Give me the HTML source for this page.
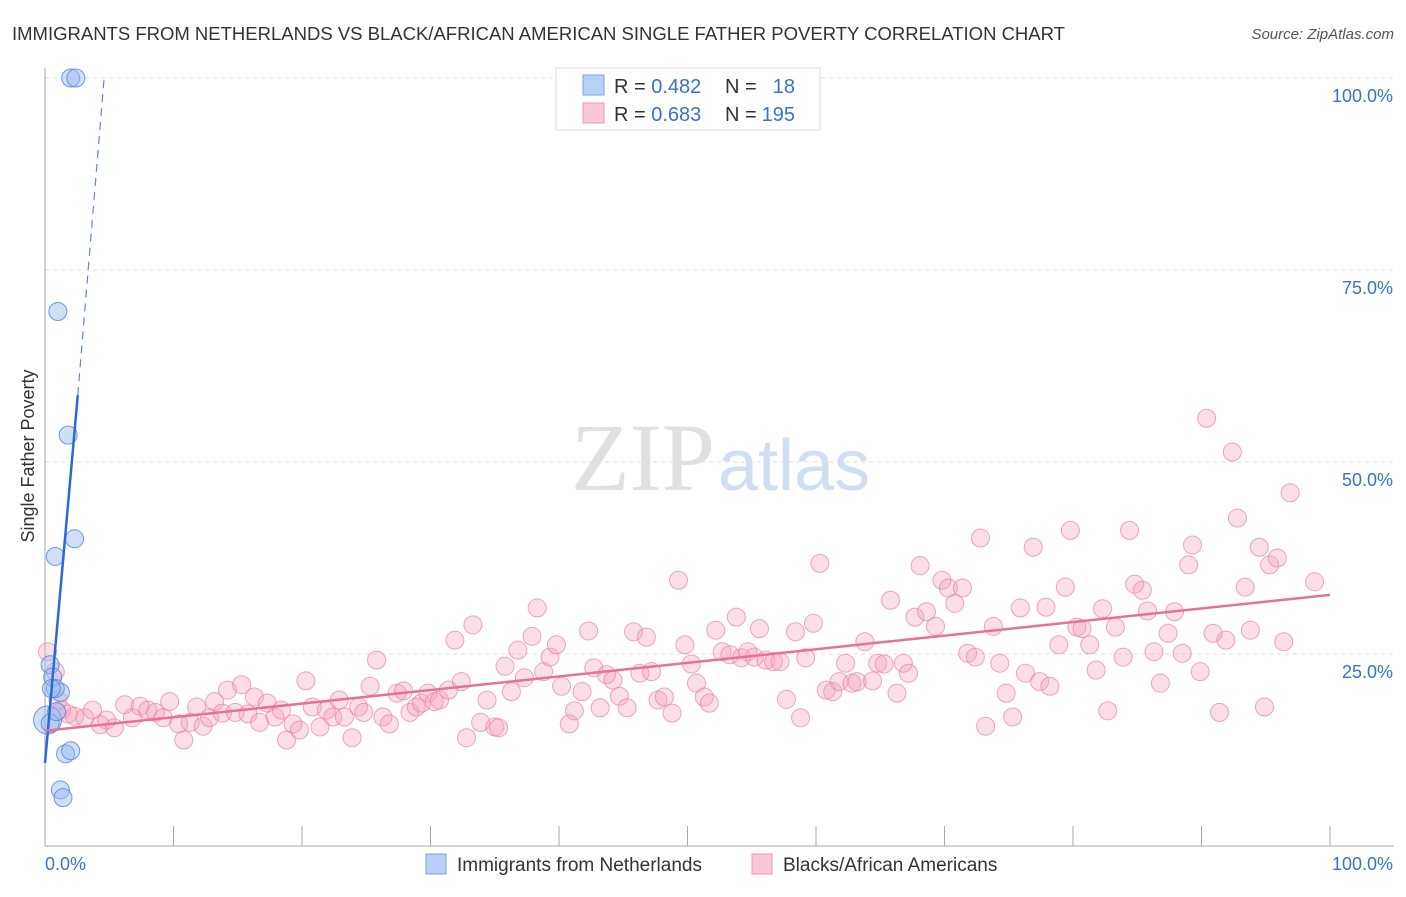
<!DOCTYPE html>
<html><head><meta charset="utf-8"><style>
body{margin:0;background:#fff;font-family:"Liberation Sans",sans-serif}
</style></head><body>
<svg id="chart" width="1406" height="892" xmlns="http://www.w3.org/2000/svg" font-family="Liberation Sans, sans-serif">
<text x="12" y="40" font-size="18.5" fill="#333">IMMIGRANTS FROM NETHERLANDS VS BLACK/AFRICAN AMERICAN SINGLE FATHER POVERTY CORRELATION CHART</text>
<text x="1394" y="39" font-size="15" font-style="italic" fill="#555" text-anchor="end">Source: ZipAtlas.com</text>
<text x="715" y="490" font-size="96" font-family="Liberation Serif, serif" fill="#e0e0e0" text-anchor="end">ZIP</text>
<text x="718" y="490" font-size="72" fill="#d0def2">atlas</text>
<g id="grid"></g>
<g id="axes"></g>
<g id="pink"></g>
<g id="blue"></g>
<g id="trends"></g>
<text transform="translate(34,456) rotate(-90)" font-size="18" fill="#333" text-anchor="middle">Single Father Poverty</text>
<g>
<rect x="556" y="68" width="264" height="62" fill="#fff" stroke="#ddd"/>
<rect x="583" y="75" width="21" height="20" fill="#b8d0f5" stroke="#7aa4e0"/>
<rect x="583" y="103" width="21" height="20" fill="#fbc8d8" stroke="#ee99b5"/>
<text x="614" y="93" font-size="20" fill="#333">R = <tspan fill="#3a72c8">0.482</tspan></text>
<text x="725" y="93" font-size="20" fill="#333">N =</text>
<text x="795" y="93" font-size="20" fill="#3a72c8" text-anchor="end">18</text>
<text x="614" y="121" font-size="20" fill="#333">R = <tspan fill="#3a72c8">0.683</tspan></text>
<text x="725" y="121" font-size="20" fill="#333">N =</text>
<text x="795" y="121" font-size="20" fill="#3a72c8" text-anchor="end">195</text>
</g>
<g>
<rect x="426" y="854" width="20" height="20" fill="#b8d0f5" stroke="#7aa4e0"/>
<text x="457" y="871" font-size="19" fill="#333">Immigrants from Netherlands</text>
<rect x="752" y="854" width="20" height="20" fill="#fbc8d8" stroke="#ee99b5"/>
<text x="783" y="871" font-size="19" fill="#333">Blacks/African Americans</text>
</g>
</svg>
<script>
const yTicks=[25,50,75,100];
const yTickLabels=["25.0%","50.0%","75.0%","100.0%"];
const xTickLabels=["0.0%","100.0%"];
const blueX=[2,2.4,1,1.8,2.3,0.8,0.4,0.6,1.2,0.8,0.2,0.4,1.6,2,1.2,1.4,0.9,0.5];
const blueY=[100,100,69.6,53.5,40,37.7,23.6,22,20,20.5,16.4,16,12,12.4,7.3,6.3,17.5,20.5];
const pinkX=[0.2,0.8,1,1.3,1.8,2.3,3.1,3.7,4.3,4.8,5.4,6.2,6.8,7.4,8,8.6,9.2,9.7,10.4,10.8,11.3,11.8,12.3,12.8,13.2,13.8,14.2,14.8,15.3,15.8,16.3,16.7,17.3,17.9,18.4,18.8,19.3,19.8,20.3,20.8,21.4,21.9,22.4,22.9,23.3,23.9,24.4,24.8,25.3,25.8,26.3,26.8,27.4,27.9,28.4,28.9,29.3,29.8,30.3,30.7,31.4,31.9,32.4,32.8,33.3,33.9,34.4,35,35.3,35.8,36.3,36.8,37.3,37.9,38.3,38.8,39.3,39.8,40.2,40.8,41.2,41.8,42.3,42.7,43.2,43.7,44.2,44.7,45.3,45.8,46.3,46.8,47.2,47.7,48.2,48.8,49.3,49.8,50.3,50.7,51.3,51.7,52.2,52.7,53.3,53.8,54.2,54.7,55.2,55.6,56.1,56.7,57.2,57.7,58.4,58.8,59.2,59.8,60.3,60.8,61.3,61.8,62.3,62.8,63.2,63.8,64.4,64.8,65.3,65.8,66.3,66.8,67.2,67.7,68.1,68.6,69.3,69.8,70.3,70.8,71.4,71.8,72.4,72.8,73.2,73.8,74.3,74.8,75.3,75.9,76.3,76.9,77.4,77.9,78.2,78.9,79.4,79.8,80.3,80.7,81.3,81.8,82.3,82.7,83.3,83.9,84.4,84.8,85.4,85.8,86.3,86.8,87.4,87.9,88.5,89,89.3,89.9,90.4,90.9,91.4,91.9,92.4,92.8,93.4,93.8,94.5,94.9,95.3,95.9,96.4,96.9,98.8];
const pinkY=[25.3,22.7,19,17.7,17.2,16.9,16.7,17.7,15.8,16.4,15.4,18.4,16.7,18.2,17.7,17.4,16.7,18.8,15.9,13.8,16.1,18.1,15.6,16.7,18.8,17.3,20.3,17.4,21,17.2,19.4,16.1,18.6,16.8,17.7,13.8,15.9,15.1,21.5,18.1,15.5,17.7,16.8,19,16.8,14.1,18.1,17.4,20.8,24.2,16.8,15.9,19.9,20.2,17.4,18.1,18.6,19.9,18.8,19,20.3,26.8,21.4,14.1,28.8,16.1,19,15.5,15.4,23.4,20.1,25.5,21.9,27.3,31,22.7,24.6,26.2,20.8,15.9,17.6,20.1,28,23.2,18,22.3,21.6,19.5,18,27.9,22.5,27.2,22.7,19,19.4,17.3,34.6,26.2,23.7,21.2,19.4,18.6,28.1,25.3,24.9,29.8,24.5,25.3,24.6,28.3,24.2,24,24,19.1,27.9,16.7,24.5,29,36.8,20.3,20.1,21.4,23.8,21.2,21.4,26.6,21.5,23.8,23.7,32,19.9,23.8,22.5,29.8,36.5,30.5,28.6,34.6,33.6,31.6,33.6,25.1,24.6,40.1,15.6,28.6,23.8,19.9,16.8,31,22.5,38.9,21.4,31.1,20.8,26.2,33.7,41.1,28.5,28.3,26.2,22.9,30.9,17.6,28.5,24.6,41.1,34.1,33.3,30.6,25.3,21.2,27.7,30.5,25.1,36.6,39.2,22.7,55.7,27.7,17.4,26.8,51.3,42.7,33.7,28.1,38.9,18.1,36.6,37.5,26.6,46,34.4];
const blueTrend=[[0,10.8],[2.55,58.7]];
const blueDash=[[2.55,58.7],[4.6,100]];
const pinkTrend=[[0,15],[100,32.7]];
const NS="http://www.w3.org/2000/svg";
const X=v=>45+v*12.85, Y=v=>846-v*7.68;
function mk(tag,attrs,parent){const e=document.createElementNS(NS,tag);for(const k in attrs)e.setAttribute(k,attrs[k]);document.getElementById(parent).appendChild(e);return e;}
yTicks.forEach((t,i)=>{
 const g=mk('line',{x1:45,x2:1394,y1:Y(t),y2:Y(t),stroke:'#ddd','stroke-dasharray':'4,4'},'grid');
 
 
 const l=mk('text',{x:1393,y:Y(t)+24,'font-size':18,fill:'#3a72c8','text-anchor':'end'},'grid');
 l.textContent=yTickLabels[i];
 
 
});
const ax=mk('line',{x1:45,x2:45,y1:68,y2:846,stroke:'#aaa'},'axes');


const bx=mk('line',{x1:45,x2:1394,y1:846,y2:846,stroke:'#aaa'},'axes');


for(let i=0;i<=10;i++){const t=mk('line',{x1:X(i*10),x2:X(i*10),y1:826,y2:846,stroke:'#aaa'},'axes');
 
 }
[[0,'start',45],[100,'end',1393]].forEach((d,i)=>{const t=mk('text',{x:d[2],y:870,'font-size':18,fill:'#3a72c8','text-anchor':d[1]},'axes');t.textContent=xTickLabels[i];
 
 });
pinkX.forEach((v,i)=>{const c=mk('circle',{cx:X(v),cy:Y(pinkY[i]),r:9,fill:'rgba(246,160,190,0.35)',stroke:'rgba(232,130,165,0.7)','stroke-width':1},'pink');
 
 });
blueX.forEach((v,i)=>{const c=mk('circle',{cx:X(v),cy:Y(blueY[i]),r:i==10?14:9,fill:'rgba(150,185,240,0.45)',stroke:'rgba(80,130,215,0.8)','stroke-width':1},'blue');
 
 });
const t1=mk('line',{x1:X(blueTrend[0][0]),y1:Y(blueTrend[0][1]),x2:X(blueTrend[1][0]),y2:Y(blueTrend[1][1]),stroke:'#2a6ad8','stroke-width':2.5},'trends');


const t2=mk('line',{x1:X(blueDash[0][0]),y1:Y(blueDash[0][1]),x2:X(blueDash[1][0]),y2:Y(blueDash[1][1]),stroke:'#5a8ad8','stroke-width':1.2,'stroke-dasharray':'8,6'},'trends');


const t3=mk('line',{x1:X(pinkTrend[0][0]),y1:Y(pinkTrend[0][1]),x2:X(pinkTrend[1][0]),y2:Y(pinkTrend[1][1]),stroke:'#e8709a','stroke-width':2.5},'trends');


</script>
</body></html>
